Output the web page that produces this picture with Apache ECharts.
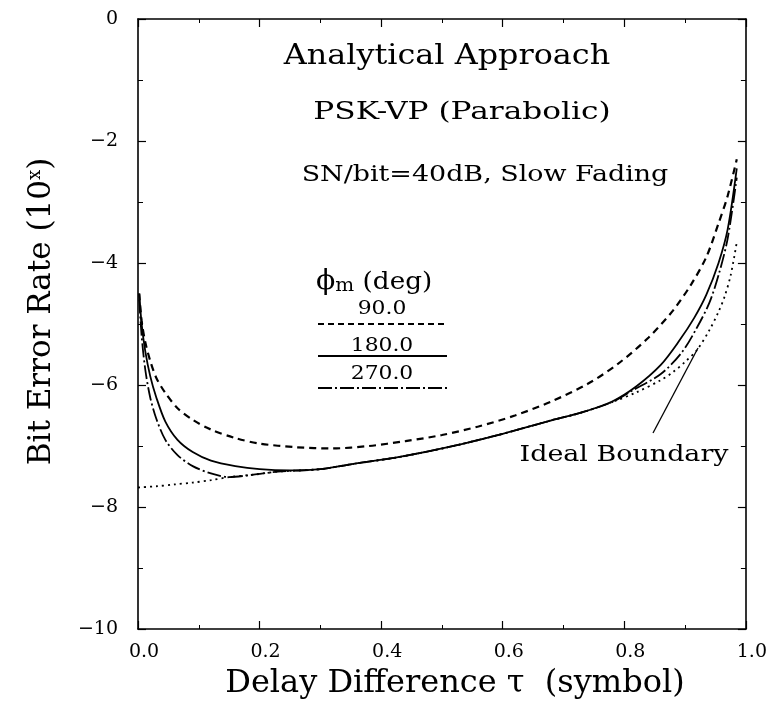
<!DOCTYPE html>
<html>
<head>
<meta charset="utf-8">
<script src="https://cdn.jsdelivr.net/npm/echarts@6/dist/echarts.min.js"></script>
<style>html,body{margin:0;padding:0;background:#fff;}#c{width:770px;height:710px;}</style>
</head>
<body>
<div id="c"></div>
<script>
// ---- data ----
var xTicks = [0, 0.2, 0.4, 0.6, 0.8, 1.0];
var yTickLabels = {'0':'0','-2':'\u22122','-4':'\u22124','-6':'\u22126','-8':'\u22128','-10':'\u221210'};

var tau90 = [0.002,0.006,0.012,0.02,0.03,0.045,0.065,0.09,0.12,0.16,0.2,0.26,0.32,0.38,0.44,0.5,0.56,0.62,0.68,0.74,0.79,0.84,0.88,0.91,0.935,0.955,0.97,0.985];
var ber90 = [-4.5,-4.95,-5.3,-5.6,-5.88,-6.13,-6.38,-6.57,-6.73,-6.87,-6.96,-7.02,-7.04,-7.0,-6.92,-6.82,-6.68,-6.5,-6.27,-5.98,-5.65,-5.22,-4.78,-4.35,-3.9,-3.35,-2.9,-2.3];

var tau180 = [0.002,0.006,0.012,0.02,0.03,0.045,0.065,0.09,0.12,0.16,0.2,0.25,0.3,0.35,0.43,0.51,0.6,0.68,0.73,0.78,0.82,0.86,0.89,0.915,0.935,0.955,0.97,0.985];
var ber180 = [-4.5,-5.0,-5.45,-5.85,-6.2,-6.6,-6.9,-7.1,-7.24,-7.33,-7.38,-7.4,-7.38,-7.3,-7.18,-7.02,-6.8,-6.58,-6.45,-6.27,-6.02,-5.67,-5.28,-4.9,-4.52,-4.0,-3.45,-2.45];

var tau270 = [0.002,0.006,0.012,0.02,0.03,0.045,0.065,0.09,0.12,0.15,0.19,0.23,0.3,0.35,0.43,0.51,0.6,0.68,0.73,0.78,0.815,0.86,0.895,0.92,0.94,0.955,0.97,0.985];
var ber270 = [-4.6,-5.2,-5.75,-6.2,-6.55,-6.9,-7.15,-7.33,-7.45,-7.51,-7.47,-7.42,-7.38,-7.3,-7.18,-7.02,-6.8,-6.58,-6.45,-6.28,-6.08,-5.82,-5.46,-5.05,-4.65,-4.2,-3.6,-2.6];

var tauIdeal = [0.0,0.03,0.06,0.09,0.12,0.15,0.19,0.23,0.3,0.35,0.43,0.51,0.6,0.68,0.73,0.78,0.82,0.86,0.88,0.9,0.92,0.94,0.955,0.965,0.975,0.985];
var berIdeal = [-7.68,-7.66,-7.63,-7.6,-7.56,-7.51,-7.47,-7.42,-7.38,-7.3,-7.18,-7.02,-6.8,-6.58,-6.45,-6.28,-6.12,-5.92,-5.79,-5.62,-5.42,-5.1,-4.8,-4.55,-4.2,-3.66];

function pairs(a, b) { return a.map(function (v, i) { return [v, b[i]]; }); }

var FONT = 'DejaVu Serif';
var chart = echarts.init(document.getElementById('c'), null, {renderer: 'canvas'});

var axisCommonX = {
  type: 'value', min: 0, max: 1, interval: 0.2,
  axisLine: {show: true, onZero: false, lineStyle: {color: '#000', width: 1.6}},
  axisTick: {show: true, inside: true, length: 8, lineStyle: {color: '#000', width: 1.2}},
  minorTick: {show: true, splitNumber: 2, length: 4, lineStyle: {color: '#000', width: 1}},
  splitLine: {show: false}
};
var axisCommonY = {
  type: 'value', min: -10, max: 0, interval: 2,
  axisLine: {show: true, onZero: false, lineStyle: {color: '#000', width: 1.6}},
  axisTick: {show: true, inside: true, length: 8, lineStyle: {color: '#000', width: 1.2}},
  minorTick: {show: true, splitNumber: 2, length: 5, lineStyle: {color: '#000', width: 1}},
  splitLine: {show: false}
};

function lineSeries(name, data, dash, width) {
  return {
    name: name, type: 'line', data: data, smooth: 0.3, showSymbol: false, symbol: 'none',
    xAxisIndex: 0, yAxisIndex: 0,
    lineStyle: {color: '#000', width: width, type: dash},
    silent: true, animation: false
  };
}

function txt(x, y, text, size, sx) {
  return {type: 'text', x: x, y: y, scaleX: sx, scaleY: 1,
    style: {text: text, fill: '#000', font: size + 'px "DejaVu Serif"', align: 'center', verticalAlign: 'middle'}};
}

var option = {
  animation: false,
  backgroundColor: '#fff',
  grid: {left: 138, right: 24, top: 19, bottom: 81},
  xAxis: [
    Object.assign({}, axisCommonX, {
      position: 'bottom',
      axisLabel: {show: true, margin: 14, color: '#000', fontFamily: FONT, fontSize: 19, padding: [0, 0, 0, 12],
        formatter: function (v) { return v.toFixed(1); }},
      name: 'Delay Difference \u03c4  (symbol)', nameLocation: 'middle', nameGap: 39,
      nameTextStyle: {color: '#000', fontFamily: FONT, fontSize: 32, padding: [0, 0, 0, 26]}
    }),
    Object.assign({}, axisCommonX, {position: 'top', axisLabel: {show: false}})
  ],
  yAxis: [
    Object.assign({}, axisCommonY, {
      position: 'left',
      axisLabel: {show: true, margin: 20, color: '#000', fontFamily: FONT, fontSize: 19,
        formatter: function (v) { return yTickLabels[String(v)]; }},
      name: 'Bit Error Rate (10{sup|x})', nameLocation: 'middle', nameGap: 80,
      nameTextStyle: {color: '#000', fontFamily: FONT, fontSize: 31, padding: [0, 0, 0, 25],
        rich: {sup: {fontFamily: FONT, fontSize: 18, verticalAlign: 'top', padding: [0, 0, 14, 0], color: '#000'}}}
    }),
    Object.assign({}, axisCommonY, {position: 'right', axisLabel: {show: false}})
  ],
  series: [
    lineSeries('90.0', pairs(tau90, ber90), [7, 5], 2.2),
    lineSeries('180.0', pairs(tau180, ber180), 'solid', 1.8),
    lineSeries('270.0', pairs(tau270, ber270), [14, 3, 2, 3], 1.8),
    lineSeries('Ideal Boundary', pairs(tauIdeal, berIdeal), [2, 4], 1.8)
  ],
  graphic: [
    txt(447, 57, 'Analytical Approach', 27, 1.18),
    txt(462, 113, 'PSK-VP (Parabolic)', 24, 1.3),
    txt(485, 175, 'SN/bit=40dB, Slow Fading', 23, 1.17),
    {type: 'text', x: 316, y: 282, scaleX: 1.05, style: {rich: {p: {font: '27px "DejaVu Serif"', fill: '#000'}, m: {font: '19px "DejaVu Serif"', fill: '#000', padding: [8, 0, 0, 0]}, d: {font: '25px "DejaVu Serif"', fill: '#000'}}, text: '{p|\u03d5}{m|m}{d| (deg)}', verticalAlign: 'middle'}},
    txt(382, 309, '90.0', 19, 1.15),
    txt(382, 346, '180.0', 19, 1.15),
    txt(382, 374, '270.0', 19, 1.15),
    {type: 'line', shape: {x1: 318, y1: 324, x2: 447, y2: 324}, style: {stroke: '#000', lineWidth: 2, lineDash: [6, 4]}},
    {type: 'line', shape: {x1: 318, y1: 356, x2: 447, y2: 356}, style: {stroke: '#000', lineWidth: 1.8}},
    {type: 'line', shape: {x1: 318, y1: 388, x2: 447, y2: 388}, style: {stroke: '#000', lineWidth: 1.8, lineDash: [14, 3, 2, 3]}},
    {type: 'line', shape: {x1: 698, y1: 348, x2: 653, y2: 433}, style: {stroke: '#000', lineWidth: 1.3}},
    txt(624, 455, 'Ideal Boundary', 23, 1.17)
  ]
};
chart.setOption(option);
</script>
</body>
</html>
